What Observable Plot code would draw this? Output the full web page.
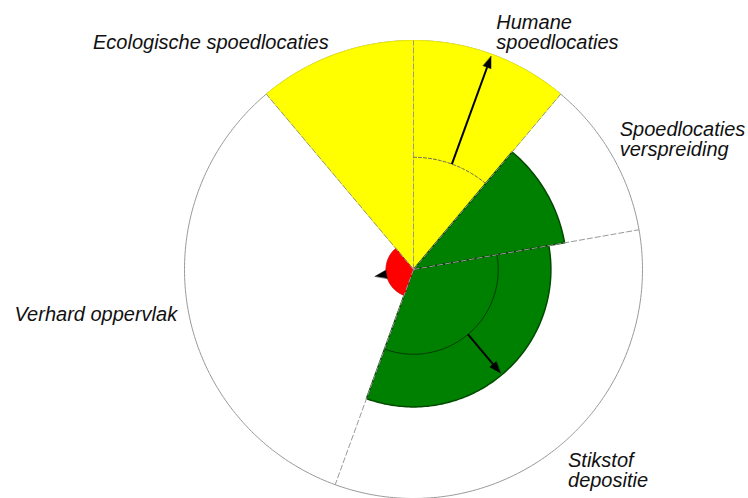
<!DOCTYPE html>
<html><head><meta charset="utf-8">
<script src="https://cdn.jsdelivr.net/npm/d3@7"></script>
<script src="https://cdn.jsdelivr.net/npm/@observablehq/plot@0.6"></script>
<style>body{margin:0;background:#fff} #chart{width:748px;height:498px}</style>
</head><body><div id="chart"></div>
<script>
// ---- data ----
const categories = ["Ecologische spoedlocaties", "Humane spoedlocaties", "Spoedlocaties verspreiding", "Stikstof depositie", "Verhard oppervlak"];
const labels = ["Ecologische spoedlocaties", "Humane\nspoedlocaties", "Spoedlocaties\nverspreiding", "Stikstof\ndepositie", "Verhard oppervlak"];
const startAngles = [320, 0, 40, 80, 200];
const endAngles = [360, 40, 80, 200, 320];
const values = [1.0, 1.0, 0.67, 0.60, 0.12];
const statuses = ["matig", "matig", "goed", "goed", "slecht"];
const referenceValues = [null, 0.49, null, 0.37, null];
const arrowFrom = [null, 0.49, null, 0.37, 0.12];
const arrowTo = [null, 0.99, null, 0.59, 0.17];

// ---- styles / layout ----
const statusStyle = {
  matig: {fill: "#ffff00", stroke: "#eded00"},
  goed: {fill: "#008000", stroke: "#004a00"},
  slecht: {fill: "#ff0000", stroke: "#d40000"}
};
const refStyle = [null, {stroke: "#666", dash: "3,2"}, null, {stroke: "#003800", dash: null}, null];
const labelLayout = [
  {dx: -1, dy: 3, anchor: "end"},
  {dx: -1, dy: -7, anchor: "start"},
  {dx: -6, dy: -7, anchor: "start"},
  {dx: -3, dy: 13, anchor: "start"},
  {dx: 5, dy: 3, anchor: "end"}
];
const labelRadius = 1.07;
const headLen = 0.05, headHalf = 0.018;

// ---- geometry helpers (polar -> plot data space) ----
const rad = d => d * Math.PI / 180;
const px = (r, a) => r * Math.sin(rad(a));
const py = (r, a) => r * Math.cos(rad(a));
function arc(r, a0, a1) {
  const n = Math.max(2, Math.ceil(Math.abs(a1 - a0)));
  return d3.range(n + 1).map(i => a0 + (a1 - a0) * i / n).map(a => ({x: px(r, a), y: py(r, a)}));
}
const mid = i => (startAngles[i] + endAngles[i]) / 2;

const sectorPoints = categories.flatMap((c, i) =>
  [{x: 0, y: 0}, ...arc(values[i], startAngles[i], endAngles[i]), {x: 0, y: 0}]
    .map(p => ({...p, cat: c, status: statuses[i]})));

const circlePoints = arc(1, 0, 360);
const radials = startAngles.map(a => ({x1: 0, y1: 0, x2: px(1, a), y2: py(1, a)}));

const marks = [];
// outer circle
marks.push(Plot.line(circlePoints, {x: "x", y: "y", stroke: "#9a9a9a", strokeWidth: 1}));
// sectors
for (const s of Object.keys(statusStyle)) {
  marks.push(Plot.line(sectorPoints.filter(d => d.status === s), {
    x: "x", y: "y", z: "cat", fill: statusStyle[s].fill, stroke: statusStyle[s].stroke,
    strokeWidth: s === "goed" ? 1.5 : 1, curve: "linear-closed"
  }));
}
// sector boundaries
marks.push(Plot.link(radials, {x1: "x1", y1: "y1", x2: "x2", y2: "y2", stroke: "#999", strokeWidth: 1, strokeDasharray: "6,2"}));
// reference arcs
categories.forEach((c, i) => {
  if (referenceValues[i] == null) return;
  marks.push(Plot.line(arc(referenceValues[i], startAngles[i], endAngles[i]), {
    x: "x", y: "y", stroke: refStyle[i].stroke, strokeWidth: 1, strokeDasharray: refStyle[i].dash
  }));
});
// arrows
const shafts = [], heads = [];
categories.forEach((c, i) => {
  if (arrowFrom[i] == null) return;
  const a = mid(i), r0 = arrowFrom[i], r1 = arrowTo[i];
  const rb = r1 - headLen;
  if (rb > r0) shafts.push({x1: px(r0, a), y1: py(r0, a), x2: px(rb, a), y2: py(rb, a)});
  const bx = px(rb, a), by = py(rb, a);
  const cx = Math.cos(rad(a)), cy = -Math.sin(rad(a));
  heads.push(
    {k: c, x: px(r1, a), y: py(r1, a)},
    {k: c, x: bx + headHalf * cx, y: by + headHalf * cy},
    {k: c, x: bx - headHalf * cx, y: by - headHalf * cy}
  );
});
marks.push(Plot.link(shafts, {x1: "x1", y1: "y1", x2: "x2", y2: "y2", stroke: "#000", strokeWidth: 2}));
marks.push(Plot.line(heads, {x: "x", y: "y", z: "k", fill: "#000", stroke: "#000", strokeWidth: 0.5, curve: "linear-closed"}));
// labels
labels.forEach((t, i) => {
  const a = mid(i), L = labelLayout[i];
  marks.push(Plot.text([{x: px(labelRadius, a), y: py(labelRadius, a), t}], {
    x: "x", y: "y", text: "t", textAnchor: L.anchor, dx: L.dx, dy: L.dy,
    fontSize: 20, fontStyle: "italic", fontFamily: "'Liberation Sans', Arial, sans-serif",
    lineHeight: 1.0, fill: "#111"
  }));
});

const chart = Plot.plot({
  width: 748, height: 498,
  marginLeft: 184, marginRight: 106, marginTop: 40, marginBottom: 0,
  x: {domain: [-1, 1], axis: null},
  y: {domain: [-1, 1], axis: null},
  style: {background: "#fff", overflow: "visible"},
  marks
});
document.getElementById("chart").appendChild(chart);
</script>
</body></html>
